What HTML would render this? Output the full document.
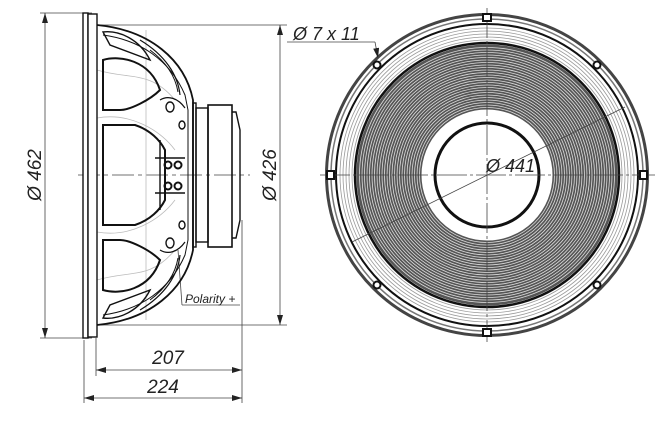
<!DOCTYPE html>
<html><head><style>
body{margin:0;background:#fff;width:668px;height:446px;overflow:hidden;position:relative;font-family:"Liberation Sans",sans-serif}
</style></head><body>
<svg width="668" height="446" style="position:absolute;left:0;top:0" xmlns="http://www.w3.org/2000/svg">
<defs><marker id="a" markerWidth="10" markerHeight="6" refX="10" refY="3" orient="auto-start-reverse" markerUnits="userSpaceOnUse"><path d="M0,0 L10,3 L0,6z" fill="#222"/></marker></defs>
<!-- right view -->
<g fill="none">
<circle cx="487" cy="175" r="160.5" stroke="#444" stroke-width="3"/>
<circle cx="487" cy="175" r="156" stroke="#777" stroke-width="1.5"/>
<circle cx="487" cy="175" r="151" stroke="#111" stroke-width="2"/>
<g stroke="#999" stroke-width="0.8">
<circle cx="487" cy="175" r="147"/><circle cx="487" cy="175" r="144"/><circle cx="487" cy="175" r="141"/><circle cx="487" cy="175" r="138"/><circle cx="487" cy="175" r="135"/>
</g>
<circle cx="487" cy="175" r="98" stroke="#555" stroke-width="65"/>
<g stroke="#ddd" stroke-width="0.8">
<circle cx="487" cy="175" r="67.5"/><circle cx="487" cy="175" r="70"/><circle cx="487" cy="175" r="72.5"/><circle cx="487" cy="175" r="75"/><circle cx="487" cy="175" r="77.5"/><circle cx="487" cy="175" r="80"/><circle cx="487" cy="175" r="82.5"/><circle cx="487" cy="175" r="85"/><circle cx="487" cy="175" r="87.5"/><circle cx="487" cy="175" r="90"/><circle cx="487" cy="175" r="92.5"/><circle cx="487" cy="175" r="95"/><circle cx="487" cy="175" r="97.5"/><circle cx="487" cy="175" r="100"/><circle cx="487" cy="175" r="102.5"/><circle cx="487" cy="175" r="105"/><circle cx="487" cy="175" r="107.5"/><circle cx="487" cy="175" r="110"/><circle cx="487" cy="175" r="112.5"/><circle cx="487" cy="175" r="115"/><circle cx="487" cy="175" r="117.5"/><circle cx="487" cy="175" r="120"/><circle cx="487" cy="175" r="122.5"/><circle cx="487" cy="175" r="125"/><circle cx="487" cy="175" r="127.5"/>
</g>
<circle cx="487" cy="175" r="132" stroke="#111" stroke-width="2.5"/>
<circle cx="487" cy="175" r="52" stroke="#111" stroke-width="3"/>
</g>
<g stroke="#444" stroke-width="0.8" fill="none">
<line x1="487" y1="8" x2="487" y2="342" stroke-dasharray="30,3,3,3"/>
<line x1="320" y1="175" x2="655" y2="175" stroke-dasharray="30,3,3,3"/>
<line x1="352" y1="242" x2="625" y2="107"/>
<line x1="40" y1="13" x2="92" y2="13"/><line x1="40" y1="338" x2="92" y2="338"/>
<line x1="45" y1="13" x2="45" y2="338" marker-start="url(#a)" marker-end="url(#a)"/>
<line x1="97" y1="25" x2="287" y2="25"/><line x1="97" y1="325" x2="287" y2="325"/>
<line x1="280" y1="25" x2="280" y2="325" marker-start="url(#a)" marker-end="url(#a)"/>
<line x1="84" y1="340" x2="84" y2="403"/><line x1="96" y1="338" x2="96" y2="376"/><line x1="242" y1="220" x2="242" y2="403"/>
<line x1="96" y1="370" x2="242" y2="370" marker-start="url(#a)" marker-end="url(#a)"/>
<line x1="84" y1="398" x2="242" y2="398" marker-start="url(#a)" marker-end="url(#a)"/>
<line x1="287" y1="42" x2="375" y2="42"/><line x1="375" y1="42" x2="378" y2="58" marker-end="url(#a)"/>
<line x1="78" y1="175" x2="250" y2="175" stroke-dasharray="22,4,4,4"/>
<polyline points="182,305 240,305"/><line x1="182" y1="305" x2="178" y2="250"/>
</g>
<!-- left view -->
<g stroke="#bbb" fill="none" stroke-width="0.8">
<line x1="146" y1="30" x2="146" y2="320"/>
<path d="M97,70 C130,80 150,70 175,100"/><path d="M97,280 C130,270 150,280 175,250"/>
<path d="M97,118 C130,112 160,130 175,150"/><path d="M97,232 C130,238 160,220 175,200"/>
</g>
<g stroke="#111" fill="none" stroke-width="1.4">
<rect x="83" y="13" width="5" height="325" fill="#fff"/>
<rect x="88" y="14" width="9" height="323" fill="#fff"/>
<path d="M97,25 C150,30 185,60 193,100 L193,250 C185,290 150,320 97,325" stroke-width="1.8"/>
<path d="M103,35 C140,40 170,60 185,95 L188,110 L188,240 L185,255 C170,290 140,310 103,315" stroke-width="1"/>
<path d="M103,60 C120,55 150,60 160,90 C150,100 130,110 120,110 L103,110z" stroke-width="2"/>
<path d="M103,290 C120,295 150,290 160,260 C150,250 130,240 120,240 L103,240z" stroke-width="2"/>
<path d="M103,125 L135,125 C150,130 160,140 165,150 L165,200 C160,210 150,220 135,225 L103,225z" stroke-width="2"/>
<path d="M103,32 C120,30 140,40 150,60 L110,45z"/>
<path d="M103,318 C120,320 140,310 150,290 L110,305z"/>
<path d="M140,40 C165,55 178,75 180,95" stroke-width="1.2"/>
<path d="M140,310 C165,295 178,275 180,255" stroke-width="1.2"/>
<path d="M150,50 C170,65 176,80 178,92" stroke-width="1"/>
<path d="M150,300 C170,285 176,270 178,258" stroke-width="1"/>
<path d="M160,100 C168,95 178,98 185,108" stroke-width="1.2"/>
<path d="M160,250 C168,255 178,252 185,242" stroke-width="1.2"/>
<ellipse cx="170" cy="107" rx="4" ry="5"/><ellipse cx="170" cy="243" rx="4" ry="5"/>
<ellipse cx="182" cy="125" rx="3" ry="4"/><ellipse cx="182" cy="225" rx="3" ry="4"/>
<rect x="193" y="103" width="3" height="144"/>
<rect x="196" y="108" width="12" height="134"/>
<rect x="208" y="105" width="24" height="142" stroke-width="1.6"/>
<path d="M232,112 L236,112 L240,130 L240,220 L236,238 L232,238"/>
<circle cx="168" cy="165" r="3.5" stroke-width="2"/><circle cx="178" cy="165" r="3.5" stroke-width="2"/>
<circle cx="168" cy="186" r="3.5" stroke-width="2"/><circle cx="178" cy="186" r="3.5" stroke-width="2"/>
<line x1="155" y1="158" x2="185" y2="158"/><line x1="155" y1="193" x2="185" y2="193"/>
<line x1="160" y1="140" x2="160" y2="210"/>
</g>
<!-- lugs -->
<g fill="#fff" stroke="#111" stroke-width="2">
<rect x="483" y="14" width="8" height="7"/><rect x="483" y="329" width="8" height="7"/>
<rect x="327" y="171" width="7" height="8"/><rect x="640" y="171" width="7" height="8"/>
<circle cx="377" cy="65" r="3.5"/><circle cx="597" cy="65" r="3.5"/>
<circle cx="377" cy="285" r="3.5"/><circle cx="597" cy="285" r="3.5"/>
</g>
<g font-style="italic" fill="#222" font-family="Liberation Sans, DejaVu Sans, sans-serif">
<text x="168" y="364" font-size="19" text-anchor="middle">207</text>
<text x="163" y="393" font-size="19" text-anchor="middle">224</text>
<text x="35" y="175" font-size="19" text-anchor="middle" transform="rotate(-90 35 175)" dy="6">Ø 462</text>
<text x="270" y="175" font-size="19" text-anchor="middle" transform="rotate(-90 270 175)" dy="6">Ø 426</text>
<text x="293" y="40" font-size="18">Ø 7 x 11</text>
<text x="486" y="172" font-size="18">Ø 441</text>
<text x="185" y="303" font-size="12">Polarity +</text>
</g>
</svg>
</body></html>
